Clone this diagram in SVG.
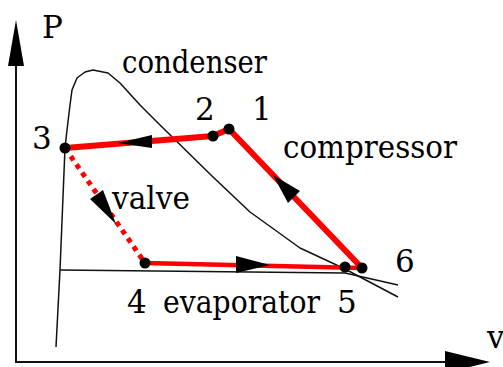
<svg xmlns="http://www.w3.org/2000/svg" width="503" height="367" viewBox="0 0 503 367">
<style>
.axis{stroke:#111;stroke-width:2;fill:none}
.thin{stroke:#111;stroke-width:1.5;fill:none;stroke-linejoin:round}
.red{stroke:#f00;stroke-width:6;fill:none;stroke-linejoin:round}
.redthin{stroke:#f00;stroke-width:4.5;fill:none}
.dot{stroke:#f00;stroke-width:5;fill:none;stroke-dasharray:5 5}
.pt{fill:#000}
.ah{fill:#000}
.t{font-family:'DejaVu Serif','Liberation Serif',serif;font-size:31px;fill:#000}
</style>
<rect width="503" height="367" fill="#fff"/>
<g id="axes">
<line class="axis" x1="16" y1="362" x2="16" y2="60"/>
<polygon class="ah" points="16,20 8,66 24,66"/>
<line class="axis" x1="15" y1="362" x2="450" y2="362"/>
<polygon class="ah" points="490,362 445,351 445,373"/>
<text class="t" x="42" y="38" font-size="28">P</text>
<text class="t" x="487" y="348">v</text>
</g>
<g id="dome">
<path class="thin" d="M56,347 L60,270 L65,148 L67,130 L70,105 L72,90 L77,78 L85,72 L93,70 L108,73 L120,83 L140,105 L160,125 L213,177 L250,212 L300,248 L343,268 L398,297"/>
<path class="thin" d="M60,270 L345,273 L398,285"/>
</g>
<g id="connectors">
<polyline class="red" points="65,148 213,136 229,129 362,268"/>
<line class="redthin" x1="145" y1="263" x2="362" y2="268"/>
<line class="dot" x1="65" y1="148" x2="145" y2="263"/>
<polygon class="ah" points="118,143 152,135 152,148"/>
<polygon class="ah" points="273,175 300,191 288,203"/>
<polygon class="ah" points="270,265 236,256 236,273"/>
<polygon class="ah" points="116,224 103,190 90,199"/>
</g>
<g id="node-3"><circle class="pt" cx="65" cy="148" r="5.5"/><text class="t" x="32" y="149">3</text></g>
<g id="node-2"><circle class="pt" cx="213" cy="136" r="5.5"/><text class="t" x="195" y="120">2</text></g>
<g id="node-1"><circle class="pt" cx="229" cy="129" r="5.5"/><text class="t" x="252" y="120">1</text></g>
<g id="node-6"><circle class="pt" cx="362" cy="268" r="5.5"/><text class="t" x="395" y="272">6</text></g>
<g id="node-5"><circle class="pt" cx="345" cy="267" r="5.5"/><text class="t" x="337" y="313">5</text></g>
<g id="node-4"><circle class="pt" cx="145" cy="263" r="5.5"/><text class="t" x="127" y="313">4</text></g>
<g id="labels">
<text class="t" x="122" y="73" textLength="145" lengthAdjust="spacingAndGlyphs">condenser</text>
<text class="t" x="283" y="158" textLength="174" lengthAdjust="spacingAndGlyphs">compressor</text>
<text class="t" x="112" y="209" textLength="78" lengthAdjust="spacingAndGlyphs">valve</text>
<text class="t" x="163" y="313" textLength="157" lengthAdjust="spacingAndGlyphs">evaporator</text>
</g>
</svg>
